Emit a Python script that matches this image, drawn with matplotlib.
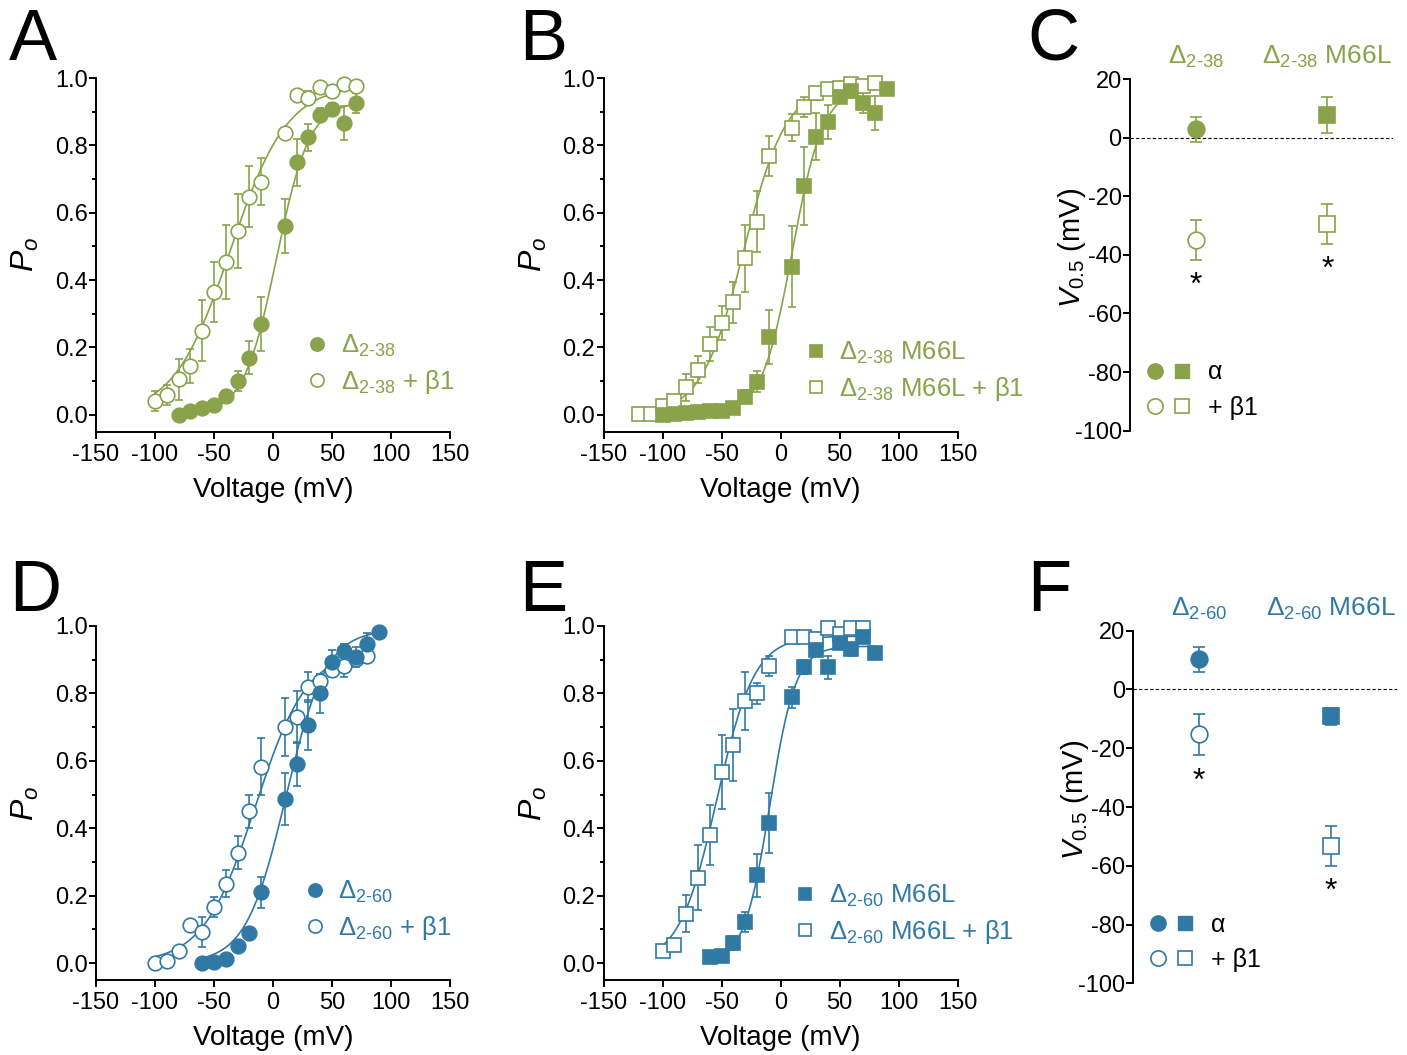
import numpy as np
import matplotlib.pyplot as plt
from matplotlib.lines import Line2D
from matplotlib.legend_handler import HandlerTuple
from matplotlib.transforms import blended_transform_factory

plt.rcParams['font.family'] = ['Liberation Sans', 'DejaVu Sans']
plt.rcParams['mathtext.fontset'] = 'custom'
plt.rcParams['mathtext.rm'] = 'Liberation Sans'
plt.rcParams['mathtext.it'] = 'Liberation Sans:italic'
plt.rcParams['mathtext.bf'] = 'Liberation Sans:bold'
plt.rcParams['axes.unicode_minus'] = False

GREEN = '#8aa24a'
BLUE = '#3079a5'

# ---- data (voltage in mV, open probability) ----
# A: Delta2-38 alone / + beta1
a_v = [-80, -70, -60, -50, -40, -30, -20, -10, 10, 20, 30, 40, 50, 60, 70]
a_po = [0.0, 0.01, 0.02, 0.03, 0.055, 0.10, 0.17, 0.27, 0.56, 0.75, 0.824, 0.89, 0.907, 0.867, 0.926]
a_err = [0, 0, 0, 0.01, 0.02, 0.03, 0.05, 0.08, 0.08, 0.07, 0.04, 0.02, 0.02, 0.05, 0.03]
a_b1_v = [-100, -90, -80, -70, -60, -50, -40, -30, -20, -10, 10, 20, 30, 40, 50, 60, 70]
a_b1_po = [0.04, 0.06, 0.105, 0.145, 0.25, 0.365, 0.455, 0.545, 0.648, 0.692, 0.836, 0.95, 0.94, 0.972, 0.96, 0.982, 0.976]
a_b1_err = [0.03, 0.03, 0.06, 0.05, 0.09, 0.09, 0.11, 0.11, 0.09, 0.07, 0, 0.01, 0.02, 0, 0, 0, 0]

# B: Delta2-38 M66L alone / + beta1
b_v = [-100, -90, -80, -70, -60, -50, -40, -30, -20, -10, 10, 20, 30, 40, 50, 60, 70, 80, 90]
b_po = [0.0, 0.003, 0.006, 0.008, 0.01, 0.01, 0.02, 0.054, 0.099, 0.232, 0.44, 0.68, 0.826, 0.87, 0.945, 0.962, 0.925, 0.897, 0.966]
b_err = [0, 0, 0, 0, 0, 0, 0.01, 0.02, 0.03, 0.08, 0.12, 0.115, 0.07, 0.05, 0.02, 0.02, 0.03, 0.05, 0]
b_b1_v = [-120, -110, -100, -90, -80, -70, -60, -50, -40, -30, -20, -10, 10, 20, 30, 40, 50, 60, 70, 80]
b_b1_po = [0.003, 0.003, 0.025, 0.04, 0.082, 0.134, 0.21, 0.272, 0.334, 0.465, 0.574, 0.769, 0.853, 0.913, 0.954, 0.966, 0.97, 0.982, 0.975, 0.986]
b_b1_err = [0, 0, 0.01, 0.02, 0.04, 0.04, 0.05, 0.05, 0.06, 0.1, 0.09, 0.06, 0.04, 0.03, 0.02, 0.01, 0.01, 0.01, 0.01, 0.01]

# D: Delta2-60 alone / + beta1
d_v = [-60, -50, -40, -30, -20, -10, 10, 20, 30, 40, 50, 60, 70, 80, 90]
d_po = [0.0, 0.004, 0.011, 0.05, 0.09, 0.21, 0.486, 0.59, 0.706, 0.80, 0.894, 0.926, 0.908, 0.948, 0.982]
d_err = [0, 0, 0, 0, 0, 0.045, 0.077, 0.065, 0.075, 0.057, 0.035, 0.02, 0.03, 0.03, 0]
d_b1_v = [-100, -90, -80, -70, -60, -50, -40, -30, -20, -10, 10, 20, 30, 40, 50, 60, 70, 80]
d_b1_po = [0.0, 0.007, 0.037, 0.113, 0.093, 0.167, 0.236, 0.328, 0.45, 0.583, 0.70, 0.73, 0.82, 0.836, 0.87, 0.88, 0.903, 0.91]
d_b1_err = [0, 0, 0, 0.01, 0.045, 0.03, 0.04, 0.05, 0.05, 0.085, 0.085, 0.078, 0.045, 0.02, 0.02, 0.03, 0.02, 0.02]

# E: Delta2-60 M66L alone / + beta1
e_v = [-60, -50, -40, -30, -20, -10, 10, 20, 30, 40, 50, 60, 70, 80]
e_po = [0.019, 0.021, 0.06, 0.123, 0.26, 0.416, 0.788, 0.879, 0.93, 0.877, 0.949, 0.931, 0.968, 0.921]
e_err = [0, 0.005, 0.02, 0.03, 0.065, 0.09, 0.03, 0.02, 0.01, 0.035, 0.01, 0.02, 0.01, 0]
e_b1_v = [-100, -90, -80, -70, -60, -50, -40, -30, -20, -10, 10, 20, 30, 40, 50, 60, 70]
e_b1_po = [0.036, 0.053, 0.147, 0.254, 0.38, 0.568, 0.647, 0.778, 0.80, 0.882, 0.968, 0.968, 0.96, 0.993, 0.975, 0.993, 0.993]
e_b1_err = [0, 0.01, 0.055, 0.095, 0.09, 0.11, 0.107, 0.087, 0.03, 0.03, 0.01, 0.01, 0.01, 0.01, 0.01, 0.01, 0.01]

# Boltzmann fit parameters (Pmax, V0.5, slope k)
a_fit, a_b1_fit = (0.93, 3, 14), (0.98, -36, 24)
b_fit, b_b1_fit = (0.97, 10, 13), (0.98, -31, 18)
d_fit, d_b1_fit = (0.99, 11, 17), (0.93, -15, 22)
e_fit, e_b1_fit = (0.94, -9, 11), (0.97, -54, 16)

# C / F: V0.5 summary (alpha, +beta1) for [Delta, Delta M66L]
c_alpha, c_alpha_err = [2.8, 7.7], [4.2, 6.0]
c_b1, c_b1_err = [-34.9, -29.5], [6.7, 6.8]
f_alpha, f_alpha_err = [10.2, -9.2], [4.1, 2.8]
f_b1, f_b1_err = [-15.3, -53.2], [7.0, 6.8]
c_headers = ['Δ$_{\\text{2-38}}$', 'Δ$_{\\text{2-38}}$ M66L']
f_headers = ['Δ$_{\\text{2-60}}$', 'Δ$_{\\text{2-60}}$ M66L']


def boltz(v, pmax, vh, k):
    return pmax / (1 + np.exp(-(v - vh) / k))


def add_series(ax, v, po, err, fit, marker, color, filled):
    face = color if filled else 'white'
    ms = 10.5 if marker == 'o' else 9.8
    ax.errorbar(v, po, yerr=err, fmt='none', ecolor=color, elinewidth=1.2,
                capsize=3.2, capthick=1.2, zorder=2, clip_on=False)
    vv = np.linspace(min(v), max(v), 300)
    ax.plot(vv, boltz(vv, *fit), color=color, lw=1.2, zorder=1, clip_on=False)
    ax.plot(v, po, marker, ms=ms, mfc=face, mec=color, mew=1.2, ls='none',
            zorder=3, clip_on=False)


def style_iv(ax):
    ax.set_xlim(-150, 150)
    ax.set_ylim(-0.05, 1.0)
    ax.set_xticks(np.arange(-150, 151, 50))
    ax.set_yticks(np.arange(0, 1.01, 0.2))
    ax.set_yticks(np.arange(0.1, 1.0, 0.2), minor=True)
    ax.yaxis.set_major_formatter('{x:.1f}')
    for s in ['top', 'right']:
        ax.spines[s].set_visible(False)
    for s in ['left', 'bottom']:
        ax.spines[s].set_linewidth(1.4)
    ax.tick_params(which='major', width=1.4, length=5, labelsize=17)
    ax.tick_params(axis='y', which='major', pad=1)
    ax.tick_params(which='minor', width=1.4, length=3)
    ax.set_xlabel('Voltage (mV)', fontsize=20, labelpad=8)
    ax.set_ylabel('$P_o$', fontsize=23)
    ax.yaxis.set_label_coords(-0.155, 0.5)


def iv_legend(ax, marker, color, labels, anchor):
    ms = 9.5 if marker == 'o' else 8.5
    h = [Line2D([], [], marker=marker, ls='none', ms=ms, mfc=color, mec=color, mew=1.2),
         Line2D([], [], marker=marker, ls='none', ms=ms, mfc='white', mec=color, mew=1.2)]
    ax.legend(h, labels, loc='upper left', bbox_to_anchor=anchor, frameon=False,
              fontsize=18.5, labelcolor=color, handlelength=0.7, handletextpad=0.55,
              labelspacing=0.35, borderpad=0, borderaxespad=0)


def summary_panel(ax, alpha, alpha_err, b1, b1_err, headers, color):
    x = np.arange(len(alpha))
    marks = ['o', 's']
    for i in x:
        ms = 12 if marks[i] == 'o' else 11.5
        ax.errorbar(x[i], alpha[i], yerr=alpha_err[i], fmt=marks[i], ms=ms, mfc=color,
                    mec=color, ecolor=color, elinewidth=1.2, capsize=4, capthick=1.2, mew=1.2)
        ax.errorbar(x[i], b1[i], yerr=b1_err[i], fmt=marks[i], ms=ms, mfc='white',
                    mec=color, ecolor=color, elinewidth=1.2, capsize=4, capthick=1.2, mew=1.2)
        ax.text(x[i], b1[i] - b1_err[i] - 9, '*', ha='center', va='center', fontsize=23)
    trans = blended_transform_factory(ax.transData, ax.transAxes)
    ax.text(x[0], 1.025, headers[0], transform=trans, ha='center', va='bottom',
            fontsize=19, color=color)
    ax.text(x[1], 1.025, headers[1], transform=trans, ha='center', va='bottom',
            fontsize=19, color=color)
    ax.axhline(0, color='black', lw=0.8, ls=(0, (3, 2)), zorder=0)
    ax.set_xlim(-0.5, 1.5)
    ax.set_ylim(-100, 20)
    ax.set_yticks(np.arange(-100, 21, 20))
    ax.set_xticks([])
    for s in ['top', 'right', 'bottom']:
        ax.spines[s].set_visible(False)
    ax.spines['left'].set_linewidth(1.4)
    ax.tick_params(axis='y', width=1.4, length=5, labelsize=17, pad=1)
    ax.set_ylabel('$\\mathit{V_{0.5}}$ (mV)', fontsize=21)
    ax.yaxis.set_label_coords(-0.16, 0.52)
    hf = (Line2D([], [], marker='o', ls='none', ms=11, mfc=color, mec=color),
          Line2D([], [], marker='s', ls='none', ms=10, mfc=color, mec=color))
    ho = (Line2D([], [], marker='o', ls='none', ms=11, mfc='white', mec=color, mew=1.2),
          Line2D([], [], marker='s', ls='none', ms=10, mfc='white', mec=color, mew=1.2))
    ax.legend([hf, ho], ['α', '+ β1'], handler_map={tuple: HandlerTuple(ndivide=None, pad=0.15)},
              loc='upper left', bbox_to_anchor=(0.05, 0.2), frameon=False, fontsize=18,
              handlelength=2.0, handletextpad=0.6, labelspacing=0.45, borderpad=0,
              borderaxespad=0)


fig = plt.figure(figsize=(14.07, 10.55), dpi=100)
W, H = 1407, 1055


def add_axes(left, top, right, bottom):
    return fig.add_axes([left / W, 1 - bottom / H, (right - left) / W, (bottom - top) / H])


axA = add_axes(96, 78, 450, 431.7)
axB = add_axes(603.5, 78, 957.5, 431.7)
axC = add_axes(1130, 79, 1393, 430.7)
axD = add_axes(96, 626, 450, 980)
axE = add_axes(603.5, 626, 957.5, 980)
axF = add_axes(1133.3, 630.7, 1396.7, 983.3)

add_series(axA, a_b1_v, a_b1_po, a_b1_err, a_b1_fit, 'o', GREEN, False)
add_series(axA, a_v, a_po, a_err, a_fit, 'o', GREEN, True)
style_iv(axA)
iv_legend(axA, 'o', GREEN, ['Δ$_{\\text{2-38}}$', 'Δ$_{\\text{2-38}}$ + β1'], (0.6, 0.28))

add_series(axB, b_b1_v, b_b1_po, b_b1_err, b_b1_fit, 's', GREEN, False)
add_series(axB, b_v, b_po, b_err, b_fit, 's', GREEN, True)
style_iv(axB)
iv_legend(axB, 's', GREEN, ['Δ$_{\\text{2-38}}$ M66L', 'Δ$_{\\text{2-38}}$ M66L + β1'], (0.575, 0.26))

add_series(axD, d_b1_v, d_b1_po, d_b1_err, d_b1_fit, 'o', BLUE, False)
add_series(axD, d_v, d_po, d_err, d_fit, 'o', BLUE, True)
style_iv(axD)
iv_legend(axD, 'o', BLUE, ['Δ$_{\\text{2-60}}$', 'Δ$_{\\text{2-60}}$ + β1'], (0.594, 0.285))

add_series(axE, e_b1_v, e_b1_po, e_b1_err, e_b1_fit, 's', BLUE, False)
add_series(axE, e_v, e_po, e_err, e_fit, 's', BLUE, True)
style_iv(axE)
iv_legend(axE, 's', BLUE, ['Δ$_{\\text{2-60}}$ M66L', 'Δ$_{\\text{2-60}}$ M66L + β1'], (0.545, 0.275))

summary_panel(axC, c_alpha, c_alpha_err, c_b1, c_b1_err, c_headers, GREEN)
summary_panel(axF, f_alpha, f_alpha_err, f_b1, f_b1_err, f_headers, BLUE)

# panel letters
for lab, x, y in [('A', 9, 8), ('B', 519, 8), ('C', 1027, 8),
                  ('D', 9, 559), ('E', 519, 559), ('F', 1027, 559)]:
    fig.text(x / W, 1 - y / H, lab, fontsize=52, ha='left', va='top')

fig.savefig('out.png', dpi=100)
